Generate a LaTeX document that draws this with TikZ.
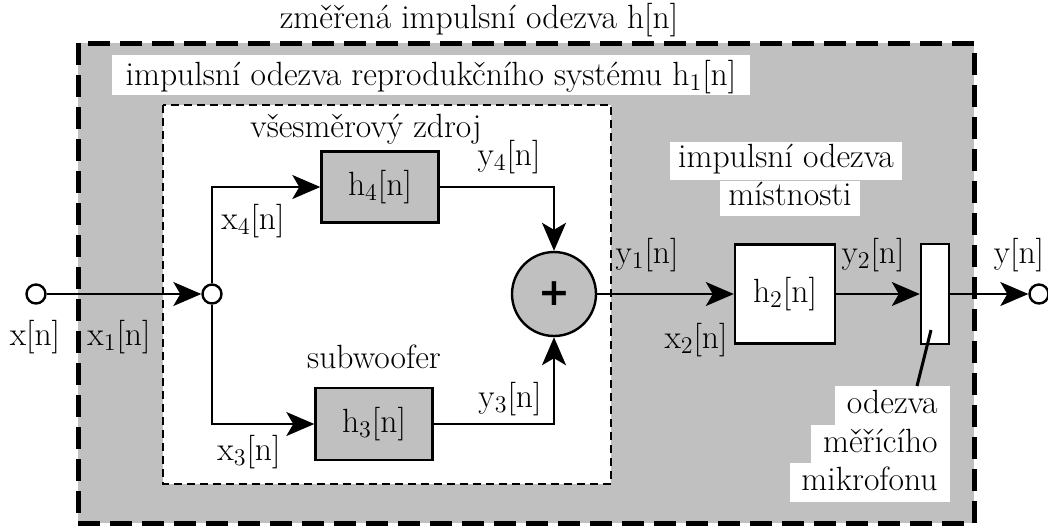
\documentclass[tikz,border=0pt]{standalone}
\usepackage{fontspec}
\newfontfamily\plusfont{DejaVu Sans}
\usetikzlibrary{arrows.meta}
\definecolor{bg}{RGB}{192,192,192}
\begin{document}
\begin{tikzpicture}[x=0.5pt,y=-0.5pt,
  font=\fontsize{16.8}{20}\selectfont,
  conn/.style={line width=1pt},
  arr/.style={conn,-{Stealth[length=14pt,width=12pt,inset=3.5pt]}},
  blk/.style={draw,line width=1.2pt,rectangle,inner sep=0pt},
  port/.style={draw,circle,fill=white,line width=1.2pt,minimum size=9.5pt,inner sep=0pt},
  lbl/.style={anchor=base,inner sep=0pt},
  wlbl/.style={fill=white,inner xsep=6pt,inner ysep=1.75pt,text height=12pt,text depth=4pt},
  outerbox/.style={fill=bg,draw,line width=2.5pt,dash pattern=on 11pt off 5pt},
  innerbox/.style={fill=white,draw,line width=1.1pt,dash pattern=on 4pt off 2.5pt}
]
\useasboundingbox (0,0) rectangle (1048,527);
% frames
\draw[outerbox] (78,43) rectangle (974,523);
\draw[innerbox] (163,105) rectangle (611,484);
% titles
\node[lbl] (title) at (479,28) {změřená impulsní odezva h[n]};
\node[fill=white,anchor=base,inner xsep=7pt,inner ysep=2.5pt,text height=12.5pt,text depth=2.5pt] (h1lab) at (431,85) {impulsní odezva reprodukčního systému h$_1$[n]};
\node[lbl] (zdroj) at (366,137) {všesměrový zdroj};
\node[lbl] (sub) at (374,368) {subwoofer};
% blocks
\node[blk,fill=bg,minimum width=58.5pt,minimum height=35.5pt] (h4) at (380,187) {h$_4$[n]};
\node[blk,fill=bg,minimum width=58.5pt,minimum height=36pt] (h3) at (374,424) {h$_3$[n]};
\node[blk,fill=white,minimum width=50pt,minimum height=49.5pt] (h2) at (785,294) {h$_2$[n]};
\node[blk,fill=white,minimum width=14pt,minimum height=50pt] (mic) at (935,294) {};
\node[draw,circle,fill=bg,line width=1.2pt,minimum size=42pt,inner sep=0pt] (sum) at (554,294) {\plusfont\fontsize{19}{19}\selectfont\bfseries +};
% ports
\node[port] (in) at (36,294) {};
\node[port] (split) at (212,294) {};
\node[port] (out) at (1039,294) {};
% connectors
\draw[arr] (in) -- (split);
\draw[arr] (split) |- (h4);
\draw[arr] (split) |- (h3);
\draw[arr] (h4) -| (sum);
\draw[arr] (h3) -| (sum);
\draw[arr] (sum) -- (h2);
\draw[arr] (h2) -- (mic);
\draw[arr] (mic) -- (out);
% room label
\node[fill=white,anchor=base,inner xsep=4pt,inner ysep=0pt,text height=12.5pt,text depth=6.5pt] (room1) at (786,167) {impulsní odezva};
\node[fill=white,anchor=base,inner xsep=4pt,inner ysep=0pt,text height=12pt,text depth=5.5pt] (room2) at (790,205) {místnosti};
% mic label
\node[wlbl,anchor=base east] (m1) at (950,413) {odezva};
\node[wlbl,anchor=base east] (m2) at (950,452) {měřícího};
\node[wlbl,anchor=base east] (m3) at (950,490) {mikrofonu};
\coordinate (mtip) at (931,330);
\coordinate (mend) at (917,386);
\draw[line width=1.5pt] (mtip) -- (mend);
% signal labels
\node[lbl] (lx) at (35,345) {x[n]};
\node[lbl] (lx1) at (119,345) {x$_1$[n]};
\node[lbl] (lx4) at (253,229) {x$_4$[n]};
\node[lbl] (ly4) at (509,165) {y$_4$[n]};
\node[lbl] (lx3) at (249,460) {x$_3$[n]};
\node[lbl] (ly3) at (510,407) {y$_3$[n]};
\node[lbl] (ly1) at (647,263) {y$_1$[n]};
\node[lbl] (lx2) at (696,348) {x$_2$[n]};
\node[lbl] (ly2) at (873,263) {y$_2$[n]};
\node[lbl] (ly) at (1019,263) {y[n]};
\end{tikzpicture}
\end{document}
